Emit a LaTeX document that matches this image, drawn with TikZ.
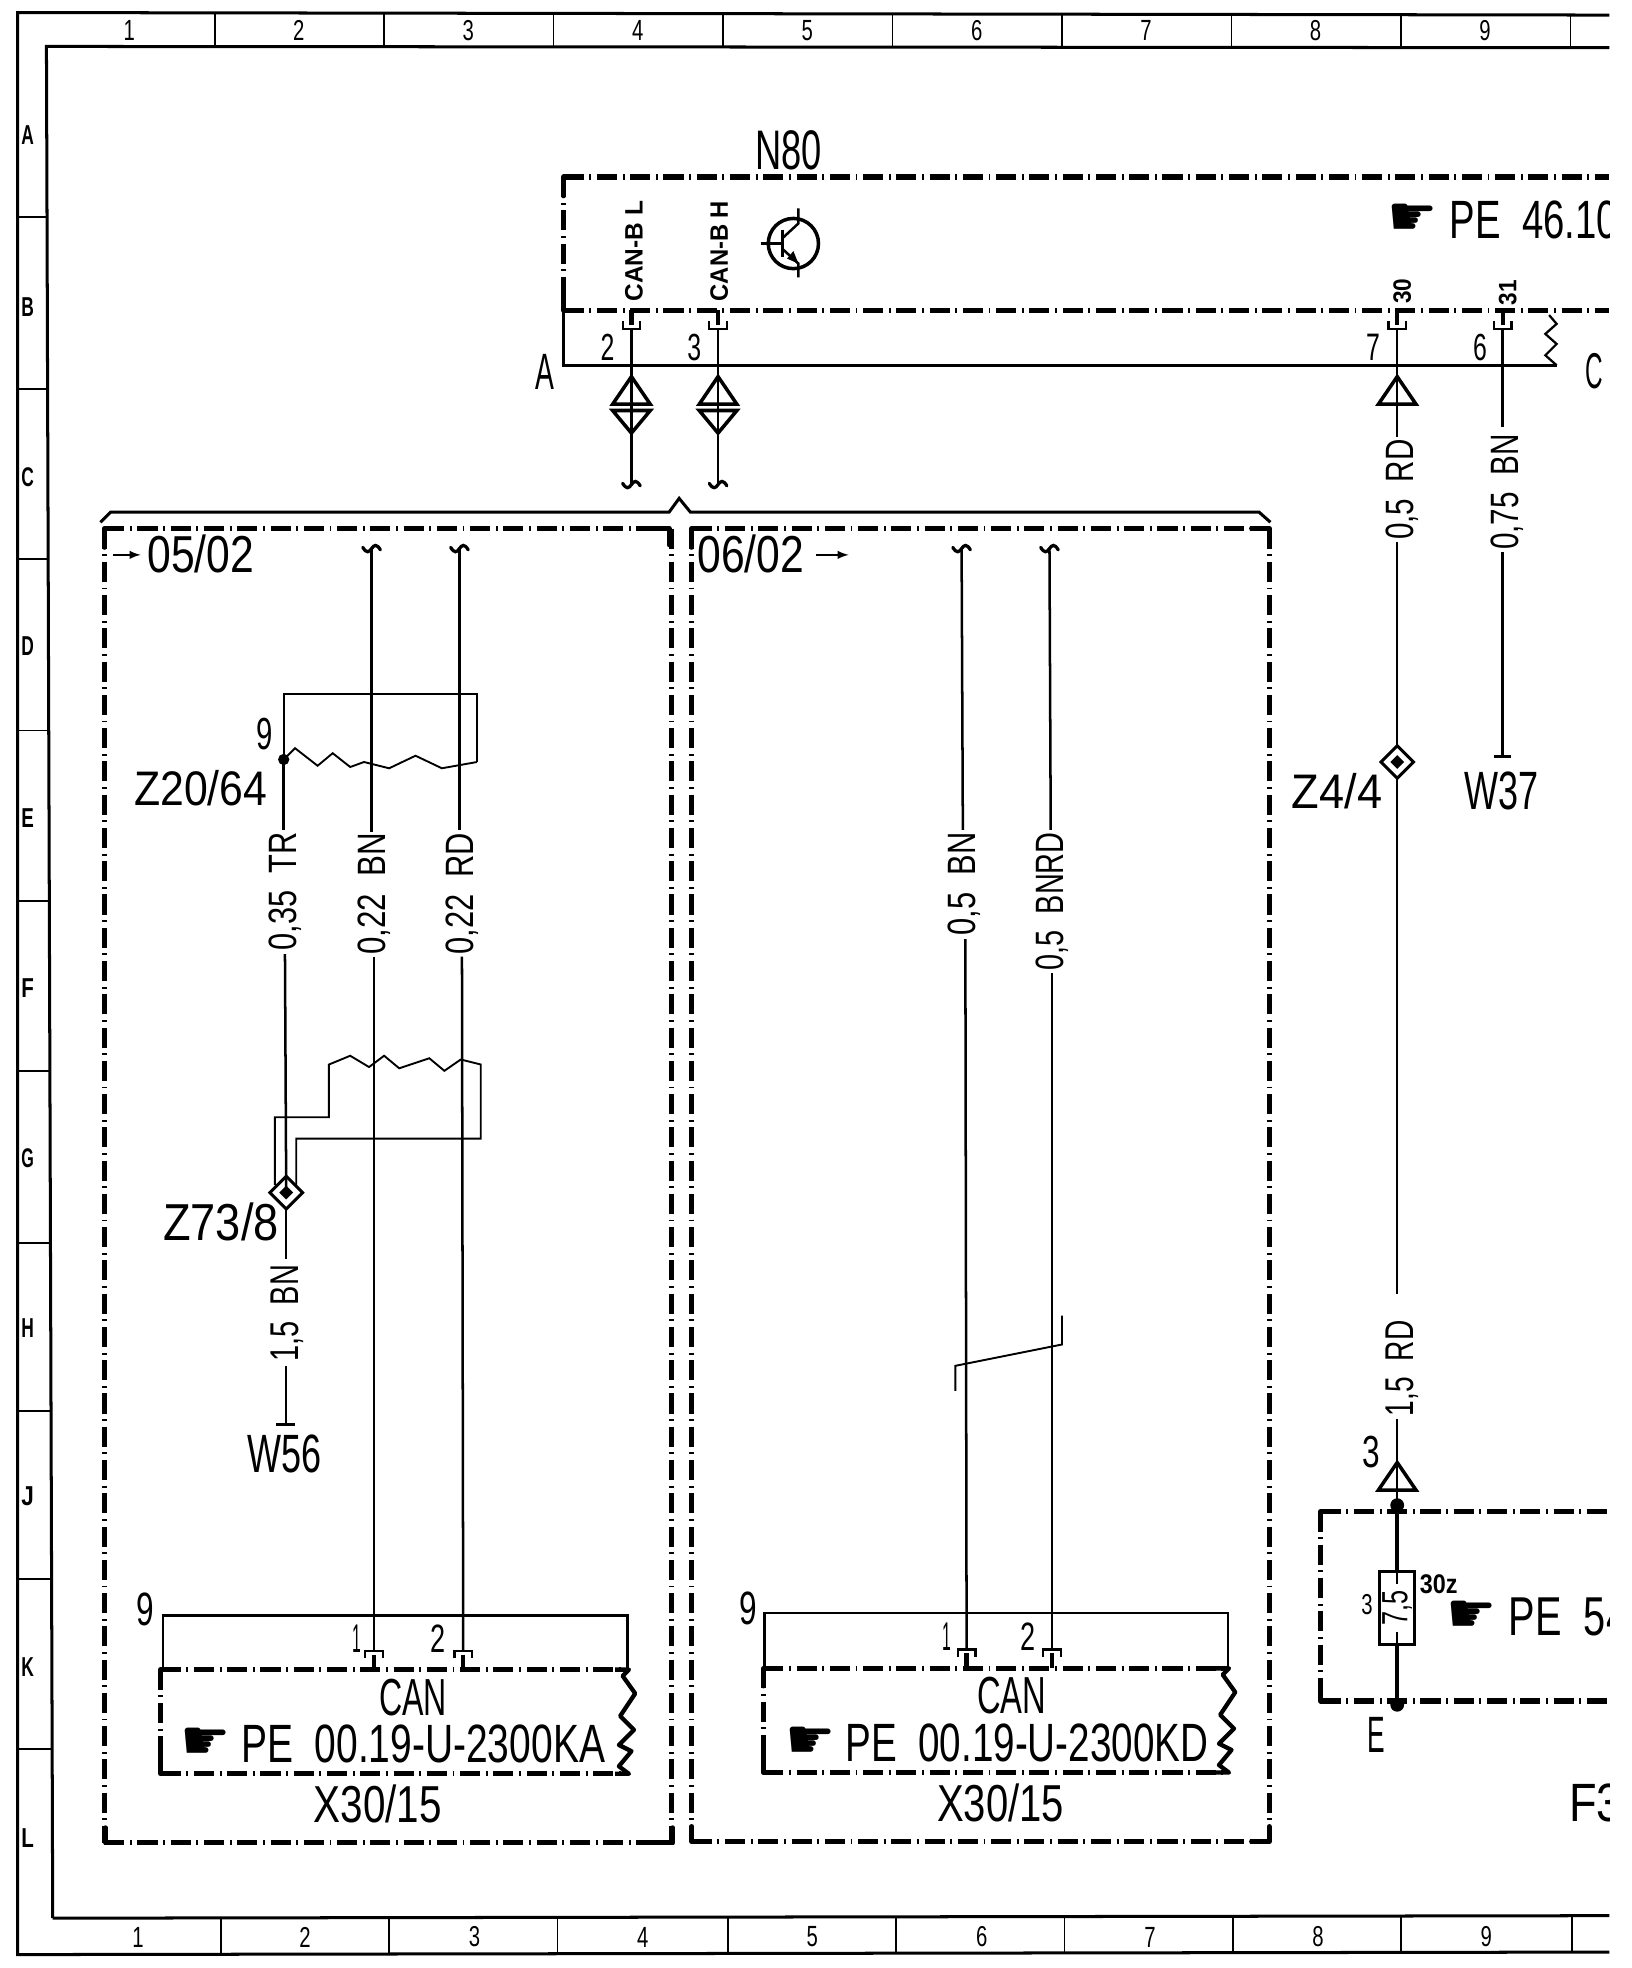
\documentclass[tikz,border=0pt]{standalone}
\usepackage{fontspec}
\usepackage{graphicx}
\usetikzlibrary{shapes.geometric}
\setmainfont{Liberation Sans}
\newfontfamily\handfont{DejaVu Sans}
% text fitted to an exact width and cap height
\newcommand{\cad}[3]{\resizebox{#1pt}{#2pt}{#3}}
\newcommand{\cadb}[3]{\resizebox{#1pt}{#2pt}{\bfseries #3}}
\newcommand{\handsign}{\resizebox{40pt}{25pt}{\handfont ☛}}
\tikzset{
  x=1pt,y=-1pt,
  lbl/.style={inner sep=1.5pt,outer sep=0pt,text=black},
  vlbl/.style={lbl,rotate=90},
  wire/.style={line width=2pt,line cap=butt},
  heavy/.style={line width=3.4pt},
  shield/.style={line width=1.5pt,line join=miter},
  frame/.style={line width=2.4pt},
  thinframe/.style={line width=1.4pt},
  dashbox/.style={line width=4pt,dash pattern=on 16pt off 4.5pt on 1.5pt off 4.5pt},
  solidbox/.style={line width=4pt,line cap=round,line join=round},
  tri/.style={line width=2.8pt,line join=miter},
  splice/.style={shape=diamond,draw,line width=2.4pt,fill=white,minimum width=26pt,minimum height=26pt,inner sep=0pt,outer sep=0pt},
  splicedot/.style={shape=diamond,fill=black,minimum width=11pt,minimum height=11pt,inner sep=0pt,outer sep=0pt},
  hand/.style={inner sep=0pt,outer sep=0pt},
}
\newcommand{\waveb}[2]{\draw[line width=2.6pt,line cap=round] (#1-7,#2-1) .. controls (#1-4,#2+4) and (#1-2,#2+3) .. (#1,#2) .. controls (#1+2,#2-3) and (#1+4,#2-4) .. (#1+7,#2+1);}
\newcommand{\triup}[3]{\draw[tri] (#1,#2) -- (#1+15,#3) -- (#1-15,#3) -- cycle;}
\newcommand{\pinup}[2]{% box above: cup below it, stem up to the box
  \draw[line width=1.8pt] (#1-7,#2-6) -- (#1-7,#2) -- (#1+7,#2) -- (#1+7,#2-6);
  \draw[line width=3.4pt] (#1,#2-3) -- (#1,#2-15);}
\newcommand{\pindown}[2]{% box below: cap above it, stem down to the box
  \draw[line width=1.8pt] (#1-7,#2+6) -- (#1-7,#2) -- (#1+7,#2) -- (#1+7,#2+6);
  \draw[line width=3.4pt] (#1,#2+3) -- (#1,#2+15);}
\begin{document}
\begin{tikzpicture}
\useasboundingbox (0,0) rectangle (1300,1567.7);
\begin{scope}
\clip (0,0) rectangle (1282,1567.7);
% ---------- sheet frame
\draw[frame] (1282,12) -- (14,10) -- (14,1557) -- (1282,1555);
\draw[frame] (1282,38) -- (37,37) -- (42,1528);
\draw[frame] (42,1528) -- (1282,1526);
\foreach \xx in {171,306,441,576,711,846,981,1116,1251}
  \draw[thinframe] (\xx,11) -- (\xx,37);
\foreach \xx in {176,310,444,580,714,848,982,1116,1252}
  \draw[thinframe] (\xx,1527) -- (\xx,1556);
\foreach \yy/\xe in {173/38,310/38,445/39,582/39,718/40,853/40,990/41,1124/41,1258/42,1393/42}
  \draw[thinframe] (14,\yy) -- (\xe,\yy);
\foreach \lab/\xx in {1/103,2/238,3/373,4/508,5/643,6/778,7/913,8/1048,9/1183}
  \node[lbl] (top\lab) at (\xx,24) {\cad{9}{16}{\lab}};
\foreach \lab/\xx in {1/110,2/243,3/378,4/512,5/647,6/782,7/916,8/1050,9/1184}
  \node[lbl] (bot\lab) at (\xx,1543) {\cad{9}{16}{\lab}};
\foreach \lab/\yy in {A/108,B/245,C/380,D/515,E/652,F/787,G/923,H/1058,J/1192,K/1328,L/1464}
  \node[lbl] (row\lab) at (22,\yy) {\cadb{10}{15}{\lab}};

% ---------- N80
\node[lbl] (n80) at (628,120) {\cad{53}{31}{N80}};
\draw[dashbox] (449,141) -- (1282,141);
\draw[dashbox] (449,247) -- (1282,247);
\draw[dashbox] (449,141) -- (449,247);
\draw[solidbox] (462,141) -- (449,141) -- (449,156);
\draw[solidbox] (462,247) -- (449,247) -- (449,232);
\node[hand] (handN) at (1125,175) {\handsign};
\node[lbl,anchor=west,inner sep=0pt] (peN) at (1155,175) {\cad{134}{30}{PE\ \ 46.10}};
\node[vlbl] (canl) at (505,200) {\cadb{80}{14}{CAN-B L}};
\node[vlbl] (canh) at (573,200) {\cadb{80}{14}{CAN-B H}};
\node[vlbl] (t30) at (1117,232) {\cadb{20}{14}{30}};
\node[vlbl] (t31) at (1201,233) {\cadb{20}{14}{31}};
% transistor
\draw[line width=2.8pt] (632,194) circle (20pt);
\draw[line width=2pt] (606,194) -- (623,194);
\draw[line width=2.4pt] (623,183) -- (623,205);
\draw[line width=2pt] (623,190) -- (636,178) -- (636,166);
\draw[line width=2pt] (623,198) -- (636,210) -- (636,221);
\fill (636,210) -- (627,206) -- (632,200) -- cycle;
% connector shield below N80
\coordinate (sa) at (449,247);
\coordinate (sb) at (449,291);
\coordinate (sc) at (1240,291);
\draw[line width=2pt] (sa) -- (sb) -- (sc);
\draw[line width=1.8pt] (sc) -- (1231,283) -- (1240,274) -- (1231,266) -- (1240,258) -- (1234,251);
\node[lbl] (la) at (434,296) {\cad{15}{28}{A}};
\node[lbl] (lc) at (1270,296) {\cad{14}{28}{C}};
% pins
\coordinate (p2) at (503,262); \coordinate (p3) at (572,262);
\coordinate (p7) at (1113,262); \coordinate (p6) at (1197,262);
\pinup{503}{262}\pinup{572}{262}\pinup{1113}{262}\pinup{1197}{262}
\node[lbl] (n2) at (484,277) {\cad{11}{21}{2}};
\node[lbl] (n3) at (553,277) {\cad{11}{21}{3}};
\node[lbl] (n7) at (1094,277) {\cad{11}{21}{7}};
\node[lbl] (n6) at (1179,277) {\cad{11}{21}{6}};
% double connectors
\coordinate (w2) at (503,386); \coordinate (w3) at (572,386);
\draw[wire] (p2) -- (w2); \draw[wire] (p3) -- (w3);
\waveb{503}{386}\waveb{572}{386}
\foreach \xx in {503,572}{
  \draw[tri] (\xx,300) -- (\xx+15,322) -- (\xx-15,322) -- cycle;
  \draw[tri] (\xx,345) -- (\xx+15,327) -- (\xx-15,327) -- cycle;
}

% ---------- bracket over the two variants
\coordinate (br1) at (80,416); \coordinate (br2) at (88,408);
\coordinate (br3) at (533,408); \coordinate (br4) at (541,397);
\coordinate (br5) at (550,408); \coordinate (br6) at (1003,408); \coordinate (br7) at (1012,416);
\draw[line width=2.4pt] (br1) -- (br2) -- (br3) -- (br4) -- (br5) -- (br6) -- (br7);

% ---------- box 05/02
\draw[dashbox] (83,421) -- (533,421);
\draw[dashbox] (83,1468) -- (537,1468);
\draw[dashbox] (83,421) -- (83,1468);
\draw[dashbox] (535,421) -- (535,1468);
\draw[solidbox] (96,421) -- (83,421) -- (83,436);
\draw[solidbox] (96,1468) -- (84,1468) -- (84,1456);
\draw[solidbox] (522,421) -- (533,421) -- (533,434);
\draw[solidbox] (522,1468) -- (536,1468) -- (536,1456);
\draw[-latex,line width=2pt] (90,442) -- (112,442);
\node[lbl] (pg5) at (160,441) {\cad{85}{30}{05/02}};

% ---------- box 06/02
\draw[dashbox] (551,421) -- (1011,421);
\draw[dashbox] (551,1467) -- (1011,1467);
\draw[dashbox] (551,421) -- (551,1467);
\draw[dashbox] (1011,421) -- (1011,1467);
\draw[solidbox] (564,421) -- (551,421) -- (551,436);
\draw[solidbox] (564,1467) -- (551,1467) -- (551,1455);
\draw[solidbox] (997,421) -- (1011,421) -- (1011,434);
\draw[solidbox] (997,1467) -- (1011,1467) -- (1011,1455);
\node[lbl] (pg6) at (598,441) {\cad{85}{30}{06/02}};
\draw[-latex,line width=2pt] (650,442) -- (676,442);

% ---------- left box wires
\coordinate (t1) at (296,437); \coordinate (t2) at (366,437);
\coordinate (pa) at (298,1315); \coordinate (pb) at (369,1315);
\node[vlbl] (l022bn) at (298,712) {\cad{97}{22}{0,22\ \ BN}};
\node[vlbl] (l022rd) at (368,712) {\cad{97}{22}{0,22\ \ RD}};
\draw[wire] (t1) -- (296,663); \draw[wire] (298,762) -- (pa);
\draw[wire] (t2) -- (366,661); \draw[wire] (368,762) -- (pb);
\waveb{296}{437}\waveb{366}{437}
% Z20/64
\coordinate (zd) at (226,605);
\node[lbl] (n9a) at (211,585) {\cad{13}{25}{9}};
\node[lbl] (z2064) at (160,628) {\cad{106}{28}{Z20/64}};
\node[vlbl] (l035) at (227,710) {\cad{94}{22}{0,35\ \ TR}};
\draw[wire] (zd) -- (226,661);
\fill (zd) circle (4.5pt);
\draw[shield] (zd) -- (226,553) -- (380,553) -- (380,607);
\draw[shield] (zd) -- (235,596) -- (253,610) -- (265,600) -- (279,611) -- (290,607) -- (310,612) -- (331,602) -- (352,612) -- (380,607);
% Z73/8
\node[splice] (z738) at (228,950) {};
\node[lbl] (z738t) at (176,973) {\cad{92}{30}{Z73/8}};
\draw[wire] (227,760) -- (z738.center);
\draw[wire] (z738.south) -- (228,1003);
\draw[shield] (219,944) -- (219,890) -- (262,890) -- (262,848) -- (279,841) -- (294,850) -- (306,841) -- (318,851) -- (342,843) -- (354,853) -- (367,844) -- (383,848) -- (383,907) -- (236,907) -- (236,944);
\node[splicedot] (z738d) at (228,950) {};
\node[vlbl] (l15bn) at (229,1046) {\cad{77}{22}{1,5\ \ BN}};
\coordinate (w56) at (228,1135);
\draw[wire] (228,1088) -- (w56);
\draw[line width=2.4pt] (220,1135) -- (235,1135);
\node[lbl] (w56t) at (227,1158) {\cad{59}{30}{W56}};

% ---------- connector X30/15 left
\draw[line width=1.9pt] (130,1329) -- (130,1287) -- (500,1287) -- (500,1329);
\node[lbl] (n9b) at (116,1282) {\cad{14}{26}{9}};
\node[lbl] (n1b) at (284,1305) {\cad{7}{22}{1}};
\node[lbl] (n2b) at (349,1305) {\cad{12}{22}{2}};
\pindown{298}{1315}\pindown{369}{1315}
\draw[dashbox] (128,1330) -- (500,1330);
\draw[dashbox] (128,1413) -- (500,1413);
\draw[dashbox] (128,1330) -- (128,1413);
\draw[solidbox] (140,1330) -- (128,1330) -- (128,1344);
\draw[solidbox] (140,1413) -- (128,1413) -- (128,1399);
\draw[line width=3.4pt,line join=round] (490,1330) -- (501,1330) -- (496,1335) -- (506,1349) -- (494,1367) -- (505,1378) -- (493,1390) -- (503,1395) -- (493,1407) -- (501,1413) -- (490,1413);
\node[lbl] (can1) at (329,1352) {\cad{54}{29}{CAN}};
\node[hand] (hand1) at (164,1389) {\handsign};
\node[lbl] (pe1) at (337,1389) {\cad{290}{30}{PE\ \ 00.19-U-2300KA}};
\node[lbl] (x1) at (301,1437) {\cad{102}{30}{X30/15}};

% ---------- right box wires
\coordinate (t3) at (766,437); \coordinate (t4) at (836,437);
\coordinate (pc) at (770,1315); \coordinate (pd) at (838,1315);
\node[vlbl] (l05bn) at (768,704) {\cad{82}{22}{0,5\ \ BN}};
\node[vlbl] (l05brd) at (838,718) {\cad{110}{22}{0,5\ \ BNRD}};
\draw[wire] (t3) -- (767,661); \draw[wire] (769,748) -- (pc);
\draw[wire] (t4) -- (837,661); \draw[wire] (838,775) -- (pd);
\waveb{766}{437}\waveb{836}{437}
\draw[shield] (761,1108) -- (761,1088) -- (846,1071) -- (846,1048);

% ---------- connector X30/15 right
\draw[line width=1.9pt] (609,1328) -- (609,1285) -- (978,1285) -- (978,1328);
\node[lbl] (n9c) at (596,1281) {\cad{14}{26}{9}};
\node[lbl] (n1c) at (754,1304) {\cad{7}{22}{1}};
\node[lbl] (n2c) at (819,1304) {\cad{12}{22}{2}};
\pindown{770}{1314}\pindown{838}{1314}
\draw[dashbox] (608,1329) -- (978,1329);
\draw[dashbox] (608,1412) -- (978,1412);
\draw[dashbox] (608,1329) -- (608,1412);
\draw[solidbox] (620,1329) -- (608,1329) -- (608,1343);
\draw[solidbox] (620,1412) -- (608,1412) -- (608,1398);
\draw[line width=3.4pt,line join=round] (968,1329) -- (979,1329) -- (974,1334) -- (984,1348) -- (972,1366) -- (983,1377) -- (971,1389) -- (981,1394) -- (971,1406) -- (979,1412) -- (968,1412);
\node[lbl] (can2) at (806,1351) {\cad{55}{29}{CAN}};
\node[hand] (hand2) at (646,1388) {\handsign};
\node[lbl] (pe2) at (818,1388) {\cad{289}{30}{PE\ \ 00.19-U-2300KD}};
\node[lbl] (x2) at (797,1436) {\cad{101}{30}{X30/15}};

% ---------- right-hand wires
\node[vlbl] (l05rd) at (1117,390) {\cad{80}{22}{0,5\ \ RD}};
\node[vlbl] (l075bn) at (1201,392) {\cad{92}{22}{0,75\ \ BN}};
\node[vlbl] (l15rd) at (1117,1090) {\cad{76}{22}{1,5\ \ RD}};
\node[splice] (z44) at (1113,607) {};
\node[splicedot] (z44d) at (1113,607) {};
\node[lbl] (z44t) at (1065,630) {\cad{72}{28}{Z4/4}};
\draw[wire] (p7) -- (1113,348);
\draw[wire] (1113,432) -- (z44.north);
\draw[wire] (z44.south) -- (1113,1031);
\draw[wire] (1113,1130) -- (1113,1199);
\triup{1113}{300}{322}
\triup{1113}{1165}{1187}
\node[lbl] (n3t) at (1092,1157) {\cad{14}{25}{3}};
\draw[wire] (p6) -- (1197,340);
\coordinate (w37) at (1197,603);
\draw[wire] (1197,440) -- (w37);
\draw[line width=2.4pt] (1190,603) -- (1204,603);
\node[lbl] (w37t) at (1196,630) {\cad{59}{30}{W37}};

% ---------- F3
\draw[dashbox] (1052,1204) -- (1282,1204);
\draw[dashbox] (1052,1355) -- (1282,1355);
\draw[dashbox] (1052,1204) -- (1052,1355);
\draw[solidbox] (1064,1204) -- (1052,1204) -- (1052,1218);
\draw[solidbox] (1064,1355) -- (1052,1355) -- (1052,1341);
\node[circle,fill=black,minimum size=11pt,inner sep=0pt] (f1) at (1113,1199) {};
\node[circle,fill=black,minimum size=11pt,inner sep=0pt] (f2) at (1113,1358) {};
\node[draw,line width=2.6pt,fill=white,minimum width=28pt,minimum height=58pt,inner sep=0pt] (fuse) at (1113,1281) {};
\draw[heavy] (f1) -- (fuse.north);
\draw[heavy] (fuse.south) -- (f2);
\draw[wire] (fuse.north) -- (1113,1262);
\draw[wire] (1113,1300) -- (fuse.south);
\node[vlbl] (f75) at (1113,1281) {\cad{28}{20}{7,5}};
\node[lbl] (n3f) at (1089,1278) {\cad{9}{16}{3}};
\node[lbl] (n30z) at (1146,1262) {\cadb{30}{15}{30z}};
\node[hand] (hand3) at (1172,1288) {\handsign};
\node[lbl,anchor=west,inner sep=0pt] (pe3) at (1202,1288) {\cad{95}{30}{PE\ \ 54}};
\node[lbl] (le) at (1096,1382) {\cad{14}{28}{E}};
\node[lbl,anchor=west,inner sep=0pt] (f3) at (1250,1436) {\cad{42}{30}{F3}};
\end{scope}
\end{tikzpicture}
\end{document}
